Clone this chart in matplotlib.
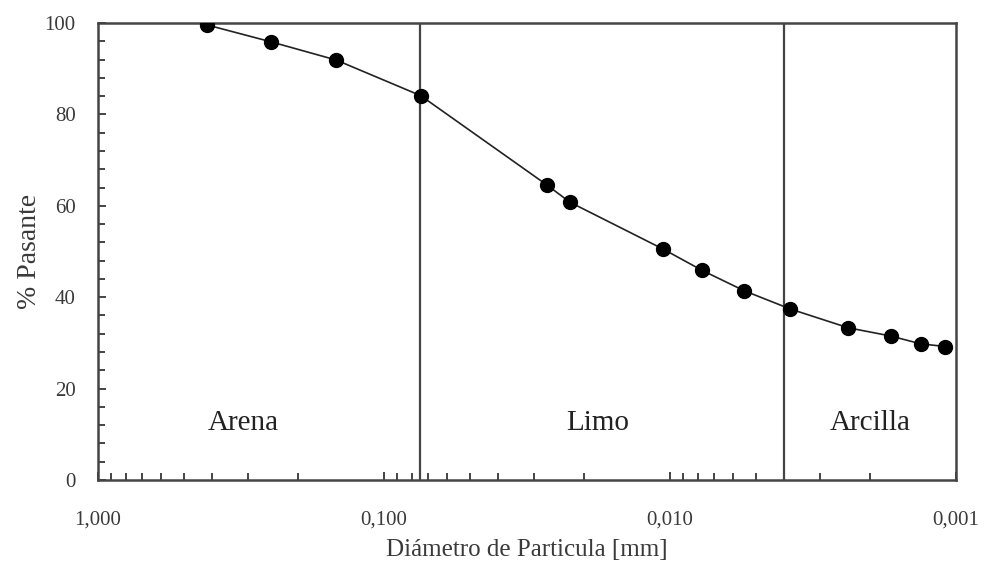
import matplotlib
matplotlib.use("Agg")
import matplotlib.pyplot as plt
from matplotlib.ticker import FixedLocator, LogLocator, NullFormatter

plt.rcParams['font.family'] = ['Liberation Serif', 'DejaVu Serif']

# granulometria: diametro [mm] vs % pasante
diametro = [0.417, 0.249, 0.147, 0.0744, 0.0270, 0.0224, 0.01055,
            0.00774, 0.00550, 0.00379, 0.00238, 0.00169, 0.00133, 0.00109]
pasante = [99.6, 95.9, 91.9, 84.1, 64.6, 60.8, 50.5,
           45.9, 41.4, 37.4, 33.3, 31.5, 29.8, 29.2]

limites = [0.075, 0.004]
zonas = ['Arena', 'Limo', 'Arcilla']
zonas_x = [0.311, 0.0179, 0.0020]
zonas_y = 12.5

xticks = [1.0, 0.1, 0.01, 0.001]
xtick_labels = ['1,000', '0,100', '0,010', '0,001']
yticks = [0, 20, 40, 60, 80, 100]

edge = '#444444'
txt = '#3a3a3a'

fig = plt.figure(figsize=(9.84, 5.68), dpi=100, facecolor='white')
ax = fig.add_axes([0.0996, 0.155, 0.8719, 0.8045])

ax.plot(diametro, pasante, color='#222222', lw=1.2, marker='o',
        markersize=10, markerfacecolor='black', markeredgecolor='black',
        zorder=3)

for x in limites:
    ax.axvline(x, color=edge, lw=1.6, zorder=2)

for nombre, x in zip(zonas, zonas_x):
    ax.text(x, zonas_y, nombre, ha='center', va='center',
            fontsize=21, color='#222222')

ax.set_xscale('log')
ax.set_xlim(1.0, 0.001)
ax.set_ylim(0, 100)

ax.xaxis.set_major_locator(FixedLocator(xticks))
ax.set_xticklabels(xtick_labels)
ax.xaxis.set_minor_locator(LogLocator(base=10, subs=range(2, 10)))
ax.xaxis.set_minor_formatter(NullFormatter())
ax.set_yticks(yticks)
ax.set_yticks(range(0, 101, 4), minor=True)

ax.tick_params(axis='both', which='both', direction='in', color=edge,
               width=1.4, labelcolor=txt, labelsize=15, top=False, right=False)
ax.tick_params(axis='x', which='major', length=6, pad=22)
ax.tick_params(axis='x', which='minor', length=5)
ax.tick_params(axis='y', which='major', length=6, pad=16)
ax.tick_params(axis='y', which='minor', length=5)

for s in ax.spines.values():
    s.set_color(edge)
    s.set_linewidth(1.8)

ax.set_xlabel('Diámetro de Particula [mm]', fontsize=18, color=txt, labelpad=7)
ax.set_ylabel('% Pasante', fontsize=20, color=txt, labelpad=2)

fig.savefig('out.png', dpi=100, facecolor='white')
